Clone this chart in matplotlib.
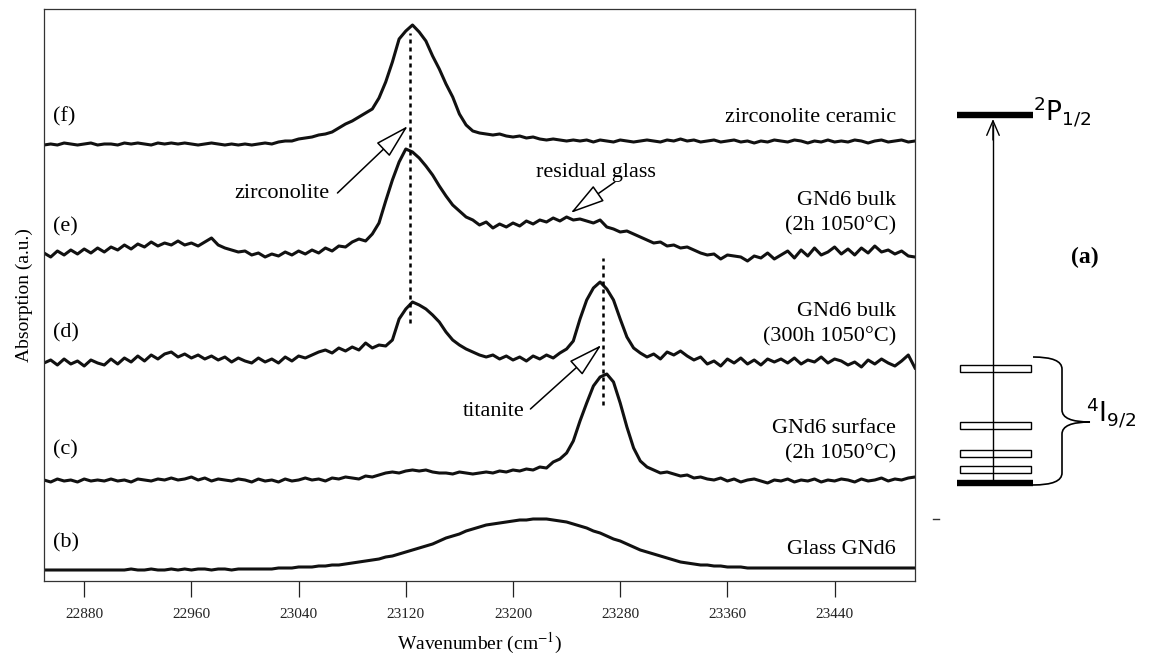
import numpy as np
import matplotlib
matplotlib.use('Agg')
import matplotlib.pyplot as plt
from matplotlib.patches import Rectangle, PathPatch
from matplotlib.path import Path

# wavenumber grid (cm-1), one point every 5 cm-1
wavenumber = np.arange(22850, 23501, 5)

# absorption traces (arbitrary units, already offset)
glass_b = [11, 11, 11, 11, 11, 11, 11, 11, 11, 11,
           11, 11, 11, 12, 11, 11, 12, 11, 11, 12,
           11, 12, 11, 12, 12, 11, 12, 12, 11, 12,
           12, 12, 12, 12, 12, 13, 13, 13, 14, 14,
           14, 15, 15, 16, 16, 17, 18, 19, 20, 21,
           22, 24, 25, 27, 29, 31, 33, 35, 37, 40,
           43, 45, 47, 50, 52, 54, 56, 57, 58, 59,
           60, 61, 61, 62, 62, 62, 61, 60, 59, 57,
           55, 53, 50, 48, 45, 42, 40, 37, 34, 31,
           29, 27, 25, 23, 21, 19, 18, 17, 16, 16,
           15, 15, 14, 14, 14, 13, 13, 13, 13, 13,
           13, 13, 13, 13, 13, 13, 13, 13, 13, 13,
           13, 13, 13, 13, 13, 13, 13, 13, 13, 13,
           13]

surface_c = [101, 99, 102, 100, 101, 99, 102, 100, 101, 100,
             102, 100, 101, 99, 102, 101, 100, 102, 101, 103,
             101, 102, 104, 101, 103, 100, 102, 101, 100, 102,
             101, 99, 102, 100, 101, 99, 102, 100, 101, 103,
             101, 102, 100, 103, 102, 104, 103, 102, 105, 104,
             106, 108, 109, 108, 110, 111, 110, 111, 109, 108,
             108, 107, 109, 108, 107, 108, 109, 108, 110, 109,
             111, 110, 112, 111, 114, 113, 119, 122, 128, 140,
             160, 178, 195, 204, 207, 199, 178, 154, 133, 120,
             114, 111, 108, 109, 107, 105, 106, 103, 104, 102,
             101, 103, 100, 102, 99, 101, 102, 100, 98, 101,
             100, 102, 99, 101, 100, 102, 99, 101, 100, 102,
             101, 99, 102, 100, 101, 103, 100, 102, 101, 103,
             104]

bulk300_d = [218, 221, 216, 222, 217, 220, 215, 221, 218, 216,
             222, 217, 223, 219, 225, 220, 226, 222, 227, 229,
             224, 227, 223, 226, 222, 225, 221, 224, 219, 223,
             220, 218, 223, 219, 222, 218, 224, 220, 225, 223,
             226, 229, 231, 228, 233, 230, 234, 231, 238, 233,
             236, 235, 241, 262, 272, 279, 276, 272, 266, 259,
             249, 241, 236, 232, 229, 226, 224, 226, 222, 225,
             221, 224, 220, 225, 222, 226, 223, 228, 232, 240,
             262, 281, 293, 299, 292, 281, 262, 244, 233, 228,
             224, 227, 222, 229, 226, 230, 225, 221, 224, 217,
             220, 215, 222, 218, 223, 217, 221, 216, 222, 219,
             222, 218, 223, 217, 221, 219, 224, 218, 222, 220,
             216, 219, 214, 221, 217, 222, 218, 215, 220, 226,
             213]

bulk2_e = [328, 324, 330, 326, 331, 327, 332, 328, 333, 329,
           334, 331, 336, 332, 337, 334, 339, 335, 338, 336,
           340, 336, 338, 335, 339, 343, 336, 333, 331, 329,
           330, 326, 328, 324, 327, 325, 329, 326, 330, 327,
           331, 328, 333, 330, 335, 334, 339, 342, 340, 347,
           358, 380, 401, 419, 432, 429, 423, 415, 406, 395,
           385, 376, 370, 364, 361, 356, 359, 353, 357, 354,
           358, 355, 360, 357, 361, 359, 363, 360, 364, 361,
           362, 360, 358, 361, 354, 352, 349, 350, 347, 344,
           341, 338, 339, 335, 336, 333, 334, 331, 328, 326,
           327, 322, 326, 325, 324, 320, 325, 323, 328, 322,
           326, 330, 323, 331, 325, 333, 326, 329, 334, 327,
           332, 326, 333, 328, 335, 329, 331, 327, 330, 325,
           324]

ceramic_f = [436, 437, 436, 438, 437, 436, 437, 438, 436, 437,
             437, 436, 438, 437, 438, 437, 436, 438, 437, 438,
             437, 438, 437, 436, 437, 438, 437, 436, 437, 436,
             437, 436, 437, 438, 437, 439, 440, 440, 442, 443,
             444, 446, 447, 449, 453, 457, 460, 464, 468, 472,
             483, 499, 519, 542, 550, 556, 549, 540, 525, 512,
             497, 484, 467, 456, 450, 448, 447, 446, 447, 445,
             444, 445, 443, 444, 442, 441, 442, 441, 440, 441,
             440, 441, 439, 441, 440, 439, 441, 440, 439, 440,
             441, 440, 439, 441, 440, 442, 440, 441, 439, 440,
             441, 439, 440, 441, 439, 440, 438, 440, 439, 441,
             440, 439, 441, 440, 438, 440, 439, 441, 439, 440,
             439, 441, 440, 438, 440, 441, 439, 440, 441, 439,
             440]

traces = [glass_b, surface_c, bulk300_d, bulk2_e, ceramic_f]
letters = ['(b)', '(c)', '(d)', '(e)', '(f)']
letter_y = [38, 131, 248, 354, 464]
sample_names = ['Glass GNd6', 'GNd6 surface\n(2h 1050°C)', 'GNd6 bulk\n(300h 1050°C)',
                'GNd6 bulk\n(2h 1050°C)', 'zirconolite ceramic']
name_y = [31, 140, 257, 368, 463]

zirconolite_pos = 23123
titanite_pos = 23267
xticks = [22880, 22960, 23040, 23120, 23200, 23280, 23360, 23440]

serif = ['Liberation Serif', 'DejaVu Serif']

fig = plt.figure(figsize=(11.55, 6.57), dpi=100)
ax = fig.add_axes([44 / 1155, 76 / 657, 871 / 1155, 572 / 657])

for y in traces:
    ax.plot(wavenumber, y, color='#111111', lw=2.2, solid_joinstyle='round')

ax.set_xlim(22850, 23500)
ax.set_ylim(0, 572)

# dotted guide lines
ax.plot([zirconolite_pos, zirconolite_pos], [258, 548], color='black', lw=1.8, ls=(0, (1.6, 1.6)))
ax.plot([titanite_pos, titanite_pos], [176, 323], color='black', lw=1.8, ls=(0, (1.6, 1.6)))

for lab, yy in zip(letters, letter_y):
    ax.text(22857, yy, lab, fontsize=16, family=serif, va='center', ha='left')

for nm, yy in zip(sample_names, name_y):
    ax.text(23486, yy, nm, fontsize=16, family=serif, va='center', ha='right', linespacing=1.45)

arrow = dict(arrowstyle='-|>,head_length=1.1,head_width=0.3', fc='white', ec='black',
             lw=1.1, mutation_scale=20, shrinkA=0, shrinkB=0)
ax.annotate('', xy=(23121.5, 455), xytext=(23069, 388), arrowprops=arrow)
ax.text(23063, 388, 'zirconolite', fontsize=16, family=serif, va='center', ha='right')
ax.annotate('', xy=(23243, 368), xytext=(23276, 399), arrowprops=arrow)
ax.text(23262, 409, 'residual glass', fontsize=16, family=serif, va='center', ha='center')
ax.annotate('', xy=(23266, 236), xytext=(23213, 172), arrowprops=arrow)
ax.text(23209, 170, 'titanite', fontsize=16, family=serif, va='center', ha='right')

ax.set_xticks(xticks)
ax.set_xticklabels([str(t) for t in xticks], fontsize=11, family=serif)
ax.set_yticks([])
ax.tick_params(axis='x', direction='out', length=11.5, width=0.9, pad=8, colors='#222222')
for s in ax.spines.values():
    s.set_linewidth(0.9)
    s.set_color('#333333')
ax.set_xlabel('Wavenumber (cm$^{-1}$)', fontsize=14, family=serif, labelpad=7)
ax.set_ylabel('Absorption (a.u.)', fontsize=14, family=serif, labelpad=8)
ax.xaxis.label.set_math_fontfamily('stix')

# energy level scheme (a), drawn in pixel coordinates
ax2 = fig.add_axes([918 / 1155, 0, 237 / 1155, 1])
ax2.set_xlim(918, 1155)
ax2.set_ylim(657, 0)
ax2.axis('off')

ax2.plot([957, 1033], [115, 115], color='black', lw=4.6, solid_capstyle='butt')
ax2.plot([957, 1033], [483, 483], color='black', lw=4.6, solid_capstyle='butt')
for yy in [368, 425, 453, 469]:
    ax2.add_patch(Rectangle((960, yy - 3.5), 71, 7, fc='white', ec='black', lw=1.0, zorder=3))
ax2.plot([993, 993], [480, 125], color='black', lw=1.0, zorder=4)
ax2.annotate('', xy=(993, 119), xytext=(993, 140),
             arrowprops=dict(arrowstyle='->,head_length=0.7,head_width=0.3', lw=1.0,
                             mutation_scale=15, shrinkA=0, shrinkB=0))

verts = [(1033, 357), (1062, 357), (1062, 369), (1062, 410), (1062, 422), (1090, 422),
         (1062, 422), (1062, 434), (1062, 473), (1062, 485), (1033, 485)]
codes = [Path.MOVETO, Path.CURVE3, Path.CURVE3, Path.LINETO, Path.CURVE3, Path.CURVE3,
         Path.CURVE3, Path.CURVE3, Path.LINETO, Path.CURVE3, Path.CURVE3]
ax2.add_patch(PathPatch(Path(verts, codes), fc='none', ec='black', lw=1.2))

ax2.text(1033, 112, r'$^{2}$P$_{1/2}$', fontsize=19, va='center', ha='left')
ax2.text(1086, 413, r'$^{4}$I$_{9/2}$', fontsize=19, va='center', ha='left')
ax2.text(1085, 257, '(a)', fontsize=17, fontweight='bold', family=serif, va='center', ha='center')
ax2.plot([933, 939], [519, 519], color='#333333', lw=1.0)

fig.savefig('out.png', dpi=100)
